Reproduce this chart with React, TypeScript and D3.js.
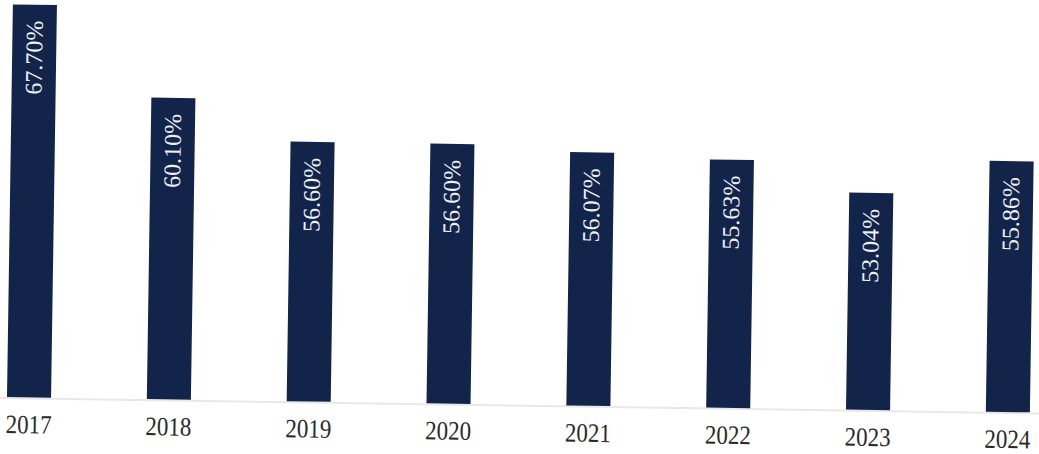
import React from "react";
import * as d3 from "d3";

const years = ["2017", "2018", "2019", "2020", "2021", "2022", "2023", "2024"];
const values = [67.7, 60.1, 56.6, 56.6, 56.07, 55.63, 53.04, 55.86];
const labels = ["67.70%", "60.10%", "56.60%", "56.60%", "56.07%", "55.63%", "53.04%", "55.86%"];

const W = 1039;
const H = 454;
const BASE = 397;
const SERIF = "'Liberation Serif', 'Times New Roman', serif";

export default function App() {
  const x = d3
    .scaleBand<string>()
    .domain(years)
    .range([7, 1030])
    .paddingInner(0.685)
    .paddingOuter(0);
  const y = d3.scaleLinear().domain([34.9, 70]).range([BASE, BASE - 11.97 * (70 - 34.9)]);
  const bw = x.bandwidth();
  const y0 = y(34.9);

  return (
    <svg
      width={W}
      height={H}
      style={{ position: "absolute", left: 0, top: 0, display: "block", background: "#fff" }}
    >
      <g transform={`rotate(0.86, 7, ${BASE})`}>
        <line x1={-20} x2={W + 20} y1={y0 + 1} y2={y0 + 1} stroke="#e8e8e8" strokeWidth={2} />
        {years.map((yr, i) => {
          const bx = x(yr)!;
          const top = y(values[i]);
          const cx = bx + bw / 2;
          return (
            <g key={yr}>
              <rect x={bx} y={top} width={bw} height={y0 - top} fill="#13244b" />
              <text
                transform={`translate(${cx + 8}, ${top + 16}) rotate(-90)`}
                textAnchor="end"
                style={{ fontFamily: SERIF, fontSize: "24px" }}
                fill="#eef0f6"
              >
                {labels[i]}
              </text>
              <text
                transform={`translate(${cx}, ${y0 + 36}) scale(1, 1.15)`}
                textAnchor="middle"
                style={{ fontFamily: SERIF, fontSize: "23px" }}
                fill="#2a2a2a"
              >
                {yr}
              </text>
            </g>
          );
        })}
      </g>
    </svg>
  );
}
